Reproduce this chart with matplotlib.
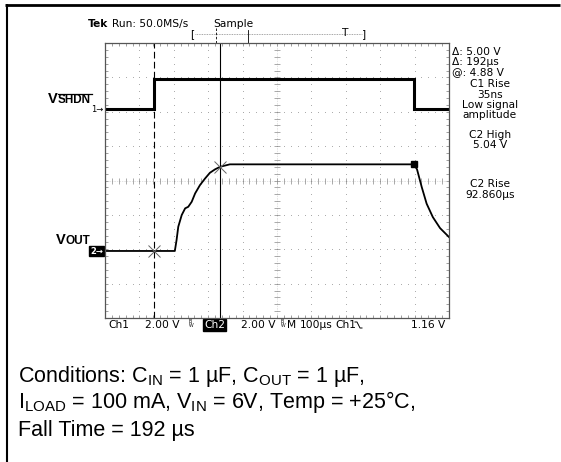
import numpy as np
import matplotlib
matplotlib.use("Agg")
import matplotlib.pyplot as plt

# scope settings
time_per_div = 100      # us
volts_per_div = 2.0     # V

# cursor positions (us from left edge of screen)
cursor_t = [142, 334]

# Ch1 (V_SHDN) trace
ch1_t = [0, 142, 142, 898, 898, 1000]
ch1_v = [0.0, 0.0, 1.74, 1.74, 0.0, 0.0]

# Ch2 (V_OUT) trace
ch2_t = [0, 203, 208, 213, 223, 233, 242, 252, 262, 276, 291, 305, 320,
         335, 363, 898, 907, 921, 935, 953, 974, 1000]
ch2_v = [0.0, 0.0, 0.63, 1.41, 2.09, 2.48, 2.57, 2.86, 3.35, 3.83, 4.22,
         4.55, 4.75, 4.90, 5.04, 5.04, 4.75, 3.70, 2.75, 1.97, 1.33, 0.81]

ch2_high_t = 898
ch2_high_v = 5.04

readout_top = ["Δ: 5.00 V", "Δ: 192µs", "@: 4.88 V"]
readout_mid = ["C1 Rise", "35ns", "Low signal", "amplitude"]
readout_high = ["C2 High", "5.04 V"]
readout_rise = ["C2 Rise", "92.860µs"]

conditions = [
    "Conditions: C$_{\\mathrm{IN}}$ = 1 µF, C$_{\\mathrm{OUT}}$ = 1 µF,",
    "I$_{\\mathrm{LOAD}}$ = 100 mA, V$_{\\mathrm{IN}}$ = 6V, Temp = +25°C,",
    "Fall Time = 192 µs",
]

plt.rcParams['mathtext.fontset'] = 'custom'
plt.rcParams['mathtext.rm'] = 'Liberation Sans'
plt.rcParams['mathtext.it'] = 'Liberation Sans'

ch1_offset = 6.08   # divisions from bottom
ch2_offset = 1.95

fig = plt.figure(figsize=(5.61, 4.62), dpi=100)
page = fig.add_axes([0, 0, 1, 1])
page.set_xlim(0, 561)
page.set_ylim(462, 0)
page.axis('off')

# page frame (top + left only)
page.plot([5, 560], [4.5, 4.5], color='black', lw=2.0, solid_capstyle='butt')
page.plot([7.5, 7.5], [4, 462], color='black', lw=1.5, solid_capstyle='butt')

# scope screen
L, R, T, B = 105, 449, 43, 318
ax = fig.add_axes([L / 561, (462 - B) / 462, (R - L) / 561, (B - T) / 462])
ax.set_xlim(0, 10 * time_per_div)
ax.set_ylim(0, 8)
ax.set_facecolor('white')
for s in ax.spines.values():
    s.set_color('#555555')
    s.set_linewidth(0.9)
ax.set_xticks(np.arange(0, 1001, 100))
ax.set_yticks(np.arange(0, 8.01, 1))
ax.set_xticks(np.arange(0, 1001, 20), minor=True)
ax.set_yticks(np.arange(0, 8.01, 0.2), minor=True)
ax.tick_params(which='both', direction='in', length=2.5, width=0.5, color='#777777',
               top=True, right=True, labelbottom=False, labelleft=False)

grid_c = '#a8a8a8'
gx = np.arange(100, 1000, 100)
gy = np.arange(1, 8, 1)
dots_y = np.arange(0, 8.01, 0.2)
dots_x = np.arange(0, 1001, 20)
for x in gx:
    if x == 500:
        continue
    ax.scatter(np.full(dots_y.size, x), dots_y, s=0.5, color=grid_c, lw=0)
for y in gy:
    if y == 4:
        continue
    ax.scatter(dots_x, np.full(dots_x.size, y), s=0.5, color=grid_c, lw=0)
# center cross with ticks
ax.plot([500, 500], [0, 8], color=grid_c, lw=0.4, ls=(0, (1, 2)))
ax.plot([0, 1000], [4, 4], color=grid_c, lw=0.4, ls=(0, (1, 2)))
ax.plot(np.full(dots_y.size, 500), dots_y, ls='none', marker='_', ms=4, mew=0.5, color='#888888')
ax.plot(dots_x, np.full(dots_x.size, 4), ls='none', marker='|', ms=4, mew=0.5, color='#888888')

# cursors
ax.axvline(cursor_t[0], color='black', lw=0.8, ls=(0, (6, 3)))
ax.axvline(cursor_t[1], color='black', lw=0.8)

# traces
ax.plot(ch1_t, ch1_offset + np.array(ch1_v) / volts_per_div, color='black', lw=2.2,
        solid_joinstyle='miter')
ax.plot(ch2_t, ch2_offset + np.array(ch2_v) / volts_per_div, color='black', lw=1.3)

# measurement markers
ax.plot([cursor_t[0]], [ch2_offset], marker='x', ms=8, mew=0.7, color='#666666')
ax.plot([cursor_t[1]], [ch2_offset + 4.90 / volts_per_div], marker='x', ms=8, mew=0.7,
        color='#666666')
ax.plot([ch2_high_t], [ch2_offset + ch2_high_v / volts_per_div], marker='s', ms=5,
        color='black')

# ---- text around the screen ----
mono = 'DejaVu Sans'
fs = 7.7
page.text(88, 24, "Tek", fontsize=fs, family=mono, weight='bold', va='center')
page.text(112, 24, "Run: 50.0MS/s", fontsize=fs, family=mono, va='center')
page.text(213, 24, "Sample", fontsize=fs, family=mono, va='center')

# record bracket
page.plot([195, 362], [34, 34], color='#888888', lw=0.6, ls=(0, (1, 1)))
page.text(192, 34, "[", fontsize=fs, family=mono, va='center', ha='center')
page.text(364, 34, "]", fontsize=fs, family=mono, va='center', ha='center')
page.text(345, 33, "T", fontsize=fs, family=mono, va='center', ha='center')
page.plot([216, 216], [28, 43], color='black', lw=0.6, ls=(0, (3, 2)))
page.plot([248, 248], [30, 43], color='black', lw=0.6)

# readouts right side
for i, s in enumerate(readout_top):
    page.text(452, 52 + i * 9.8, s, fontsize=fs, family=mono, va='center')
for i, s in enumerate(readout_mid):
    page.text(490, 84 + i * 10.5, s, fontsize=fs, family=mono, va='center', ha='center')
for i, s in enumerate(readout_high):
    page.text(490, 135 + i * 10, s, fontsize=fs, family=mono, va='center', ha='center')
for i, s in enumerate(readout_rise):
    page.text(490, 184 + i * 10.5, s, fontsize=fs, family=mono, va='center', ha='center')

# trigger level arrow
page.annotate("", xy=(440, 92), xytext=(448, 92),
              arrowprops=dict(arrowstyle='-|>', lw=0.7, color='black', mutation_scale=6))

# channel markers on left
page.text(103, 109, "1→", fontsize=6, family=mono, va='center', ha='right')
page.text(103, 251, "2→", fontsize=6, family=mono, va='center', ha='right',
          color='white', weight='bold',
          bbox=dict(boxstyle='square,pad=0.1', fc='black', ec='black'))

# channel names
lab = 'Liberation Sans'
page.text(48, 103, "V", fontsize=10.5, family=lab, weight='bold', va='baseline')
page.text(58, 103, "SHDN", fontsize=8.5, family=lab, weight='bold', va='baseline')
page.plot([58, 92], [93.5, 93.5], color='black', lw=0.9)
page.text(56, 244, "V", fontsize=10.5, family=lab, weight='bold', va='baseline')
page.text(66, 244, "OUT", fontsize=8.5, family=lab, weight='bold', va='baseline')

# bottom status line
sy = 325
page.text(108, sy, "Ch1", fontsize=fs, family=mono, va='center')
page.text(145, sy, "2.00 V", fontsize=fs, family=mono, va='center')
page.text(188, sy - 1, r"$^{\mathrm{B}}_{\mathrm{W}}$", fontsize=5, va='center')
page.text(204, sy, "Ch2", fontsize=fs, family=mono, va='center', color='white',
          bbox=dict(boxstyle='square,pad=0.05', fc='black', ec='black'))
page.text(241, sy, "2.00 V", fontsize=fs, family=mono, va='center')
page.text(280, sy - 1, r"$^{\mathrm{B}}_{\mathrm{W}}$", fontsize=5, va='center')
page.text(287, sy, "M", fontsize=fs, family=mono, va='center')
page.text(300, sy, "100µs", fontsize=fs, family=mono, va='center')
page.text(335, sy, "Ch1", fontsize=fs, family=mono, va='center')
page.plot([355, 357, 360, 362], [322, 322, 328, 328], color='black', lw=0.7)
page.text(445, sy, "1.16 V", fontsize=fs, family=mono, va='center', ha='right')

# conditions
base = [382, 408, 436]
for y, s in zip(base, conditions):
    page.text(18, y, s, fontsize=15.5, family=lab, va='baseline')

fig.savefig("out.png", dpi=100)
